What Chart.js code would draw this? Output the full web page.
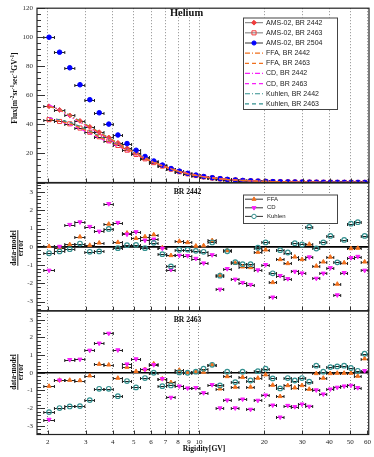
<!DOCTYPE html>
<html><head><meta charset="utf-8">
<script src="https://cdn.jsdelivr.net/npm/chart.js@4/dist/chart.umd.min.js"></script>
<style>
html,body{margin:0;padding:0;background:#fff;width:374px;height:457px;overflow:hidden}
canvas{position:absolute;left:0;top:0}
</style></head>
<body>
<canvas id="cTop" width="374" height="457"></canvas>
<canvas id="cMid" width="374" height="457"></canvas>
<canvas id="cBot" width="374" height="457"></canvas>
<script>
// ---------------- DATA ----------------
const rigidity = [2.03, 2.27, 2.53, 2.82, 3.13, 3.46, 3.83, 4.22, 4.65, 5.12, 5.63, 6.18, 6.77, 7.42, 8.11, 8.86, 9.67, 10.5, 11.5, 12.5, 13.5, 14.7, 15.9, 17.3, 18.7, 20.3, 21.9, 23.7, 25.7, 27.7, 29.9, 32.3, 34.8, 37.5, 40.4, 43.5, 46.8, 50.3, 54.1, 58.2];
const binEdges = [1.92, 2.15, 2.40, 2.67, 2.97, 3.29, 3.64, 4.02, 4.43, 4.88, 5.37, 5.90, 6.47, 7.09, 7.76, 8.48, 9.26, 10.1, 11.0, 12.0, 13.0, 14.1, 15.3, 16.6, 18.0, 19.5, 21.1, 22.8, 24.7, 26.7, 28.8, 31.1, 33.5, 36.1, 38.9, 41.9, 45.1, 48.5, 52.2, 56.1, 60.3];
const xTicks = [2, 3, 4, 5, 6, 7, 8, 9, 10, 20, 30, 40, 50, 60];
const xTickLabels = ['2', '3', '4', '5', '6', '7', '8', '9', '10', '20', '30', '40', '50', '60'];
const fluxYTicks = [20, 40, 60, 80, 100, 120];
const resYTicks = [-3, -2, -1, 0, 1, 2, 3];

// AMS-02 helium flux [m^-2 sr^-1 s^-1 GV^-1]
const ams2442 = [52.5, 50.0, 46.2, 42.4, 38.3, 34.6, 31.0, 27.3, 23.6, 20.3, 17.0, 14.2, 11.6, 9.4, 7.5, 6.1, 4.9, 3.9, 3.15, 2.55, 2.07, 1.67, 1.35, 1.09, 0.88, 0.71, 0.57, 0.46, 0.37, 0.30, 0.243, 0.196, 0.159, 0.129, 0.104, 0.084, 0.068, 0.055, 0.045, 0.036];
const ams2463 = [43.3, 42.0, 40.4, 37.5, 34.6, 31.5, 28.7, 25.5, 22.3, 19.3, 16.3, 13.7, 11.3, 9.2, 7.4, 6.0, 4.8, 3.85, 3.1, 2.5, 2.03, 1.64, 1.32, 1.07, 0.86, 0.70, 0.56, 0.45, 0.365, 0.295, 0.238, 0.192, 0.156, 0.126, 0.102, 0.082, 0.067, 0.054, 0.044, 0.035];
const ams2504 = [100, 89.7, 79.0, 67.3, 57.0, 48.0, 40.2, 32.7, 26.8, 22.2, 17.9, 14.8, 12.0, 9.6, 7.8, 6.3, 5.1, 4.1, 3.3, 2.65, 2.15, 1.74, 1.4, 1.13, 0.91, 0.73, 0.59, 0.48, 0.385, 0.31, 0.25, 0.2, 0.163, 0.132, 0.107, 0.087, 0.07, 0.057, 0.046, 0.037];

// model fluxes
const ffa2442 = [52.4, 50.1, 46.0, 41.9, 38.2, 34.4, 30.5, 27.1, 23.3, 20.1, 16.8, 14.0, 11.6, 9.5, 7.4, 6.0, 4.9, 3.9, 3.12, 2.6, 2.08, 1.69, 1.38, 1.12, 0.89, 0.71, 0.59, 0.47, 0.38, 0.305, 0.247, 0.195, 0.163, 0.132, 0.106, 0.089, 0.07, 0.055, 0.045, 0.037];
const ffa2463 = [43.7, 42.2, 40.6, 37.7, 34.7, 31.3, 28.5, 25.6, 22.2, 19.3, 16.3, 13.6, 11.4, 9.3, 7.4, 6.0, 4.8, 3.85, 3.08, 2.54, 2.04, 1.66, 1.33, 1.09, 0.87, 0.705, 0.57, 0.47, 0.37, 0.3, 0.242, 0.196, 0.156, 0.127, 0.102, 0.082, 0.067, 0.054, 0.044, 0.034];
const cd2442 = [53.4, 50.0, 45.4, 41.5, 37.6, 34.0, 29.9, 26.7, 23.3, 19.9, 16.9, 14.0, 11.6, 9.6, 7.6, 6.2, 5.0, 4.0, 3.2, 2.65, 2.12, 1.73, 1.41, 1.15, 0.91, 0.73, 0.6, 0.48, 0.39, 0.31, 0.25, 0.198, 0.165, 0.134, 0.107, 0.09, 0.071, 0.056, 0.046, 0.038];
const cd2463 = [44.6, 42.2, 39.9, 37.0, 33.9, 30.6, 27.7, 25.0, 22.0, 19.0, 16.2, 13.6, 11.4, 9.4, 7.5, 6.1, 4.9, 3.9, 3.13, 2.58, 2.08, 1.7, 1.36, 1.12, 0.89, 0.72, 0.59, 0.48, 0.38, 0.31, 0.247, 0.2, 0.159, 0.129, 0.104, 0.084, 0.068, 0.055, 0.045, 0.035];
const kuhlen2442 = [52.7, 50.2, 46.3, 42.3, 38.4, 34.7, 30.7, 27.3, 23.6, 20.3, 17.0, 14.2, 11.7, 9.6, 7.5, 6.1, 4.9, 3.9, 3.14, 2.62, 2.08, 1.69, 1.38, 1.11, 0.88, 0.70, 0.58, 0.46, 0.37, 0.298, 0.241, 0.19, 0.159, 0.128, 0.102, 0.086, 0.067, 0.053, 0.043, 0.035];
const kuhlen2463 = [44.5, 43.1, 41.5, 38.5, 35.4, 31.9, 29.1, 26.1, 22.5, 19.6, 16.4, 13.7, 11.5, 9.3, 7.4, 6.0, 4.8, 3.84, 3.08, 2.53, 2.02, 1.65, 1.31, 1.07, 0.857, 0.695, 0.562, 0.458, 0.366, 0.297, 0.24, 0.193, 0.154, 0.126, 0.1, 0.081, 0.066, 0.053, 0.043, 0.034];

// residuals (data-model)/error
const resFFA2442 = [0.03, -0.05, 0.13, 0.55, 0.09, 0.22, 1.25, 0.25, 0.76, 0.47, 0.56, 0.67, -0.04, -0.47, 0.31, 0.24, 0.05, 0.07, 0.35, -1.55, -0.2, -0.89, -1.09, -1.13, -0.29, -0.16, -1.95, -0.69, -0.91, -0.55, -0.69, 0.15, -1.05, -0.82, -0.56, -2.04, -0.87, -0.09, -0.07, -0.82];
const resCD2442 = [-1.29, 0.02, 1.22, 1.36, 1.11, 0.85, 2.36, 1.33, 0.69, 0.82, 0.36, 0.42, -0.08, -1.25, -0.47, -0.49, -0.64, -0.89, -0.44, -2.33, -1.2, -1.78, -1.96, -2.07, -1.27, -0.98, -2.76, -1.58, -1.75, -1.35, -1.44, -0.56, -1.73, -1.45, -1.15, -2.64, -1.42, -0.6, -0.53, -1.29];
const resKuhlen2442 = [-0.35, -0.25, -0.13, 0.18, -0.27, -0.25, 0.98, -0.07, 0.09, 0.11, -0.07, 0.22, -0.4, -1.07, -0.16, -0.15, -0.22, -0.27, 0.24, -1.58, -0.24, -0.84, -0.95, -0.95, -0.05, 0.24, -1.45, -0.18, -0.31, 0.2, 0.13, 1.09, -0.09, 0.24, 0.6, -0.85, 0.38, 1.27, 1.35, 0.6];
const resFFA2463 = [-0.76, -0.42, -0.42, -0.44, -0.17, 0.49, 0.45, -0.30, 0.32, 0.08, 0.19, 0.51, -0.34, -0.55, 0.15, 0.02, 0.06, 0.04, 0.45, -0.91, -0.21, -0.81, -0.25, -0.81, -0.3, -0.11, -0.7, -1.34, -0.72, -0.85, -0.72, -0.93, -0.04, -0.3, -0.04, -0.02, -0.02, -0.02, -0.19, 0.8];
const resCD2463 = [-2.65, -0.42, 0.74, 0.76, 1.27, 1.67, 2.23, 1.29, 0.49, 0.78, 0.19, 0.45, -0.34, -1.4, -0.76, -0.87, -0.85, -1.14, -0.68, -2.0, -1.55, -2.0, -1.5, -2.08, -1.57, -1.27, -1.84, -2.52, -1.86, -1.93, -1.78, -1.91, -0.98, -1.21, -0.93, -0.83, -0.76, -0.72, -0.85, 0.11];
const resKuhlen2463 = [-2.23, -2.0, -1.91, -1.89, -1.55, -0.91, -0.91, -1.33, -0.47, -0.83, -0.3, 0.0, -0.76, -0.72, 0.02, 0.0, 0.06, 0.23, 0.45, -0.72, 0.06, -0.53, 0.06, -0.44, 0.09, 0.23, -0.32, -0.89, -0.3, -0.44, -0.3, -0.51, 0.4, 0.06, 0.32, 0.36, 0.4, 0.27, 0.11, 1.08];

// ---------------- STYLE ----------------
const RED = '#f03c3c', BLUE = '#0000ff', ORANGE = '#f0701e', MAGENTA = '#f81ef8', TEAL = '#33908f';
const DASHDOT = [5, 2, 1, 2], DASHED = [4, 3];
const SERIF = '"Liberation Serif", "Times New Roman", serif';
const SANS = '"Liberation Sans", Arial, sans-serif';

function pts(arr) { return rigidity.map((r, i) => ({ x: r, y: arr[i] })); }

function drawRich(ctx, segs, size, x, y) {
  let W = 0;
  segs.forEach(s => { ctx.font = 'bold ' + (s[1] ? size * 0.7 : size) + 'px ' + SERIF; s.w = ctx.measureText(s[0]).width; W += s.w; });
  let cx = x - W / 2;
  segs.forEach(s => {
    ctx.font = 'bold ' + (s[1] ? size * 0.7 : size) + 'px ' + SERIF;
    ctx.fillText(s[0], cx, s[1] ? y - size * 0.42 : y);
    cx += s.w;
  });
}

const deco = {
  id: 'deco',
  beforeDatasetsDraw(chart, args, o) {
    const { ctx, chartArea: a, scales: { x, y } } = chart;
    ctx.save();
    ctx.beginPath(); ctx.rect(a.left, a.top, a.right - a.left, a.bottom - a.top); ctx.clip();
    if (o.zero) {
      const yy = y.getPixelForValue(0);
      ctx.strokeStyle = '#000'; ctx.lineWidth = 1.6;
      ctx.beginPath(); ctx.moveTo(a.left, yy); ctx.lineTo(a.right, yy); ctx.stroke();
    }
    ctx.strokeStyle = '#222'; ctx.lineWidth = 1;
    chart.data.datasets.forEach(ds => {
      if (!ds.xbar) return;
      ds.data.forEach((p, i) => {
        const yy = Math.round(y.getPixelForValue(p.y)) + 0.5;
        const xl = x.getPixelForValue(binEdges[i]), xr = x.getPixelForValue(binEdges[i + 1]);
        ctx.beginPath();
        ctx.moveTo(xl, yy); ctx.lineTo(xr, yy);
        ctx.moveTo(xl, yy - 1.5); ctx.lineTo(xl, yy + 1.5);
        ctx.moveTo(xr, yy - 1.5); ctx.lineTo(xr, yy + 1.5);
        ctx.stroke();
      });
    });
    ctx.restore();
  },
  afterDatasetsDraw(chart, args, o) {
    const { ctx, chartArea: a, scales: { x, y } } = chart;
    ctx.save();
    ctx.strokeStyle = '#333'; ctx.lineWidth = 1;
    const n = Math.round((o.yMax - o.yMin) / o.yMinor);
    for (let k = 0; k <= n; k++) {
      const v = o.yMin + k * o.yMinor;
      const yy = Math.round(y.getPixelForValue(v)) + 0.5;
      const isMaj = Math.abs(v / o.yMajor - Math.round(v / o.yMajor)) < 1e-6;
      const len = isMaj ? 8 : 4;
      ctx.beginPath(); ctx.moveTo(a.left, yy); ctx.lineTo(a.left + len, yy); ctx.stroke();
    }
    xTicks.forEach(v => {
      const xx = Math.round(x.getPixelForValue(v)) + 0.5;
      ctx.beginPath(); ctx.moveTo(xx, a.bottom); ctx.lineTo(xx, a.bottom - 4); ctx.stroke();
    });
    ctx.strokeStyle = '#222'; ctx.lineWidth = 1.2;
    ctx.strokeRect(a.left, a.top, a.right - a.left, a.bottom - a.top);
    (o.texts || []).forEach(t => {
      ctx.fillStyle = '#111'; ctx.font = t.font; ctx.textAlign = t.align || 'center'; ctx.textBaseline = 'middle';
      ctx.fillText(t.text, t.x, t.y);
    });
    if (o.yTitle) {
      const T = o.yTitle;
      ctx.save(); ctx.translate(T.x, T.y); ctx.rotate(-Math.PI / 2);
      ctx.fillStyle = '#111'; ctx.textAlign = 'left'; ctx.textBaseline = 'alphabetic';
      drawRich(ctx, T.segs, T.size, 0, 0);
      ctx.restore();
    }
    if (o.fracTitle) {
      const F = o.fracTitle;
      ctx.save(); ctx.translate(F.x, F.y); ctx.rotate(-Math.PI / 2);
      ctx.fillStyle = '#111'; ctx.textAlign = 'center'; ctx.textBaseline = 'alphabetic';
      ctx.font = 'bold ' + F.size + 'px ' + SERIF;
      const w = ctx.measureText(F.num).width;
      ctx.fillText(F.num, 0, -1.6);
      ctx.fillText(F.den, 0, F.size * 0.72);
      ctx.strokeStyle = '#111'; ctx.lineWidth = 0.9;
      ctx.beginPath(); ctx.moveTo(-w / 2, 0.2); ctx.lineTo(w / 2, 0.2); ctx.stroke();
      ctx.restore();
    }
    if (o.legend) {
      const L = o.legend;
      ctx.fillStyle = '#fff'; ctx.fillRect(L.x, L.y, L.w, L.h);
      ctx.strokeStyle = '#444'; ctx.lineWidth = 1; ctx.strokeRect(L.x + 0.5, L.y + 0.5, L.w, L.h);
      L.items.forEach((it, k) => {
        const cy = L.y0 + k * L.dy;
        ctx.save();
        ctx.strokeStyle = it.line; ctx.lineWidth = it.lw || 1; ctx.setLineDash(it.dash || []);
        ctx.beginPath(); ctx.moveTo(L.lx0, cy); ctx.lineTo(L.lx1, cy); ctx.stroke();
        ctx.restore();
        if (it.m) {
          ctx.save();
          ctx.fillStyle = it.m.fill; ctx.strokeStyle = it.m.stroke; ctx.lineWidth = 1;
          Chart.helpers.drawPoint(ctx, { pointStyle: it.m.style, radius: it.m.r, rotation: it.m.rot || 0, borderWidth: 1 }, (L.lx0 + L.lx1) / 2, cy);
          ctx.restore();
        }
        ctx.fillStyle = '#222'; ctx.font = L.font; ctx.textAlign = 'left'; ctx.textBaseline = 'middle';
        ctx.fillText(it.label, L.tx, cy);
      });
    }
    ctx.restore();
  }
};

function xScale(show) {
  return {
    type: 'logarithmic', min: 1.786, max: 60.8,
    afterBuildTicks(s) { s.ticks = xTicks.map(v => ({ value: v })); },
    afterFit(s) { s.height = show ? 22 : 0; },
    grid: { display: true, drawTicks: false, color: '#8c8c8c', lineWidth: 1 },
    border: { display: false, dash: [1, 2] },
    ticks: { display: show, autoSkip: false, maxRotation: 0, minRotation: 0, padding: 3, color: '#222',
      font: { family: SERIF, size: 7 }, callback: (v, i) => xTickLabels[i] }
  };
}
function yScale(min, max, ticks) {
  return {
    type: 'linear', min, max,
    afterBuildTicks(s) { s.ticks = ticks.map(v => ({ value: v })); },
    afterFit(s) { s.width = 37; },
    grid: { display: false, drawTicks: false },
    border: { display: false },
    ticks: { padding: 4, color: '#333', font: { family: SERIF, size: 7 }, callback: v => String(v) }
  };
}
function baseOpts(pad, xs, ys, decoOpts) {
  return {
    responsive: false, animation: false, devicePixelRatio: 1, events: [],
    layout: { padding: pad },
    scales: { x: xs, y: ys },
    plugins: { legend: { display: false }, tooltip: { enabled: false }, deco: decoOpts }
  };
}
function dataSet(arr, style, r, fill, stroke, order, extra) {
  return Object.assign({ data: pts(arr), showLine: false, pointStyle: style, pointRadius: r,
    pointBackgroundColor: fill, pointBorderColor: stroke, pointBorderWidth: 1, xbar: true, order }, extra || {});
}
function curve(arr, color, dash) {
  return { data: pts(arr), borderColor: color, borderWidth: 1.3, borderDash: dash, pointRadius: 0, fill: false, tension: 0, order: 0 };
}
function residSets(ffa, cd, ku) {
  return [
    dataSet(ffa, 'triangle', 2.4, ORANGE, ORANGE, 3),
    dataSet(cd, 'triangle', 2.4, MAGENTA, MAGENTA, 2, { pointRotation: 180 }),
    dataSet(ku, 'circle', 2.3, 'rgba(0,0,0,0)', TEAL, 1, { pointBorderWidth: 1.2 })
  ];
}

// ---------------- TOP PANEL ----------------
new Chart(document.getElementById('cTop'), {
  type: 'line',
  data: { datasets: [
    dataSet(ams2442, 'rectRot', 2.4, RED, RED, 5),
    dataSet(ams2463, 'rect', 2.9, 'rgba(0,0,0,0)', RED, 5),
    dataSet(ams2504, 'circle', 2.3, BLUE, BLUE, 4),
    curve(ffa2442, ORANGE, DASHDOT), curve(ffa2463, ORANGE, DASHED),
    curve(cd2442, MAGENTA, DASHDOT), curve(cd2463, MAGENTA, DASHED),
    curve(kuhlen2442, TEAL, DASHDOT), curve(kuhlen2463, TEAL, DASHED)
  ] },
  options: baseOpts({ top: 1.5, bottom: 274.5, left: 0, right: 4 }, xScale(false), yScale(0, 120, fluxYTicks), {
    yMin: 0, yMax: 120, yMinor: 4, yMajor: 20,
    texts: [{ text: 'Helium', x: 186.5, y: 13, font: 'bold 10.5px ' + SERIF }],
    yTitle: { x: 17.3, y: 88, size: 7.6, segs: [['Flux[m', 0], ['-2', 1], ['sr', 0], ['-1', 1], ['sec', 0], ['-1', 1], ['GV', 0], ['-1', 1], [']', 0]] },
    legend: { x: 243, y: 17.5, w: 94, h: 91.5, y0: 22.7, dy: 10.15, lx0: 245, lx1: 263, tx: 266, font: '7px ' + SANS,
      items: [
        { label: 'AMS-02, BR 2442', line: '#777', m: { style: 'rectRot', r: 2.4, fill: RED, stroke: RED } },
        { label: 'AMS-02, BR 2463', line: '#777', m: { style: 'rect', r: 2.9, fill: 'rgba(0,0,0,0)', stroke: RED } },
        { label: 'AMS-02, BR 2504', line: '#333', m: { style: 'circle', r: 2.1, fill: BLUE, stroke: BLUE } },
        { label: 'FFA, BR 2442', line: ORANGE, dash: DASHDOT, lw: 1.2 },
        { label: 'FFA, BR 2463', line: ORANGE, dash: DASHED, lw: 1.2 },
        { label: 'CD, BR 2442', line: MAGENTA, dash: DASHDOT, lw: 1.2 },
        { label: 'CD, BR 2463', line: MAGENTA, dash: DASHED, lw: 1.2 },
        { label: 'Kuhlen, BR 2442', line: TEAL, dash: DASHDOT, lw: 1.2 },
        { label: 'Kuhlen, BR 2463', line: TEAL, dash: DASHED, lw: 1.2 }
      ] }
  }),
  plugins: [deco]
});

// ---------------- MIDDLE PANEL ----------------
new Chart(document.getElementById('cMid'), {
  type: 'line',
  data: { datasets: residSets(resFFA2442, resCD2442, resKuhlen2442) },
  options: baseOpts({ top: 183, bottom: 146.3, left: 0, right: 4 }, xScale(false), yScale(-3.5, 3.5, resYTicks), {
    yMin: -3.4, yMax: 3.4, yMinor: 0.2, yMajor: 1, zero: true,
    texts: [{ text: 'BR 2442', x: 187.5, y: 192.3, font: 'bold 7.6px ' + SERIF }],
    fracTitle: { x: 17.6, y: 248, size: 7.4, num: 'data-model', den: 'error' },
    legend: { x: 243, y: 194.5, w: 94, h: 28.5, y0: 199.2, dy: 8.6, lx0: 245, lx1: 263, tx: 267, font: '6px ' + SANS,
      items: [
        { label: 'FFA', line: '#333', m: { style: 'triangle', r: 2.3, fill: ORANGE, stroke: ORANGE } },
        { label: 'CD', line: '#333', m: { style: 'triangle', r: 2.3, rot: 180, fill: MAGENTA, stroke: MAGENTA } },
        { label: 'Kuhlen', line: '#333', m: { style: 'circle', r: 2.2, fill: '#fff', stroke: TEAL } }
      ] }
  }),
  plugins: [deco]
});

// ---------------- BOTTOM PANEL ----------------
new Chart(document.getElementById('cBot'), {
  type: 'line',
  data: { datasets: residSets(resFFA2463, resCD2463, resKuhlen2463) },
  options: baseOpts({ top: 311, bottom: 0.5, left: 0, right: 4 }, xScale(true), yScale(-3.5, 3.5, resYTicks), {
    yMin: -3.4, yMax: 3.4, yMinor: 0.2, yMajor: 1, zero: true,
    texts: [{ text: 'BR 2463', x: 187.5, y: 320.3, font: 'bold 7.6px ' + SERIF },
            { text: 'Rigidity[GV]', x: 204, y: 449, font: 'bold 7.6px ' + SERIF }],
    fracTitle: { x: 17.6, y: 372, size: 7.4, num: 'data-model', den: 'error' }
  }),
  plugins: [deco]
});
</script>
</body></html>
